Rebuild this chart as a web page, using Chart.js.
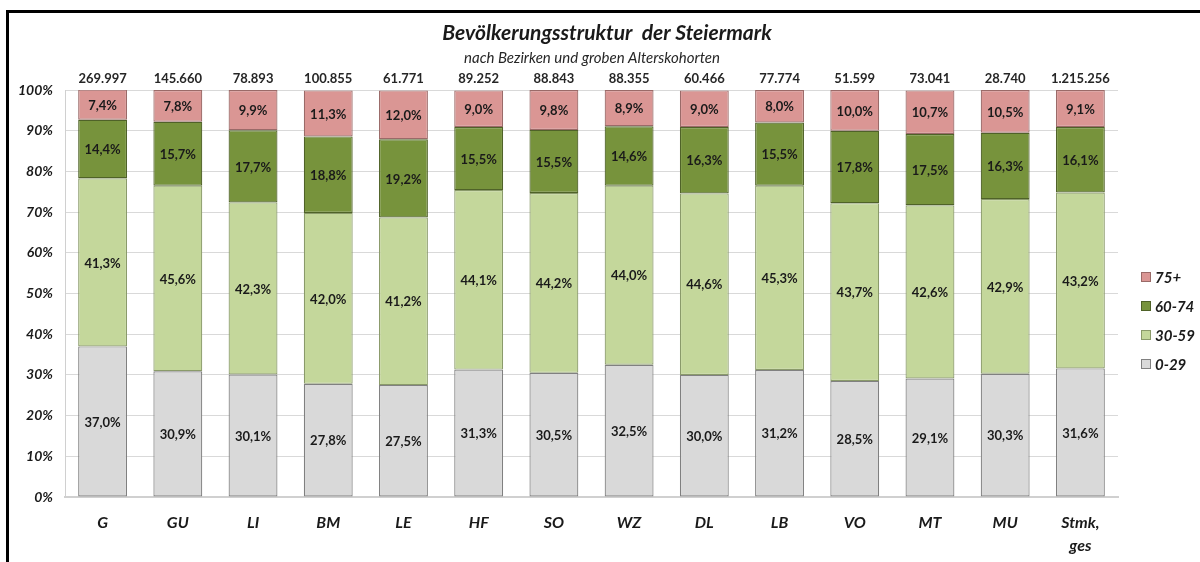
<!DOCTYPE html>
<html>
<head>
<meta charset="utf-8">
<script src="https://cdn.jsdelivr.net/npm/chart.js@4"></script>
<style>
html,body{margin:0;padding:0;background:#fff;}
#wrap{width:1200px;height:562px;position:relative;}
</style>
</head>
<body>
<div id="wrap"><canvas id="c" width="1200" height="562"></canvas></div>
<script>
const categories = ["G","GU","LI","BM","LE","HF","SO","WZ","DL","LB","VO","MT","MU",["Stmk,","ges"]];
const seriesNames = ["0-29","30-59","60-74","75+"];
const age0_29  = [37.0,30.9,30.1,27.8,27.5,31.3,30.5,32.5,30.0,31.2,28.5,29.1,30.3,31.6];
const age30_59 = [41.3,45.6,42.3,42.0,41.2,44.1,44.2,44.0,44.6,45.3,43.7,42.6,42.9,43.2];
const age60_74 = [14.4,15.7,17.7,18.8,19.2,15.5,15.5,14.6,16.3,15.5,17.8,17.5,16.3,16.1];
const age75p   = [7.4,7.8,9.9,11.3,12.0,9.0,9.8,8.9,9.0,8.0,10.0,10.7,10.5,9.1];
const totals   = ["269.997","145.660","78.893","100.855","61.771","89.252","88.843","88.355","60.466","77.774","51.599","73.041","28.740","1.215.256"];
const yTicks   = [0,10,20,30,40,50,60,70,80,90,100];
const titleText = "Bevölkerungsstruktur  der Steiermark";
const subtitleText = "nach Bezirken und groben Alterskohorten";

const fills   = ["#d9d9d9","#c4d79b","#77933c","#da9694"];
const borders = ["#808080","#8a9a6a","#4f6228","#9a6a68"];
const FONT = "Lato, 'Open Sans', sans-serif";

const seriesData = [age0_29, age30_59, age60_74, age75p];

const decor = {
  id: 'decor',
  beforeDraw(chart) {
    const ctx = chart.ctx;
    ctx.save();
    ctx.fillStyle = '#fff';
    ctx.fillRect(0, 0, chart.width, chart.height);
    ctx.restore();
  },
  afterDatasetsDraw(chart) {
    const ctx = chart.ctx;
    ctx.save();
    ctx.font = "bold 13px " + FONT;
    ctx.fillStyle = '#1a1a1a';
    ctx.textAlign = 'center';
    ctx.textBaseline = 'middle';
    chart.data.datasets.forEach((ds, di) => {
      const meta = chart.getDatasetMeta(di);
      meta.data.forEach((el, i) => {
        const v = ds.data[i];
        const y = (el.y + el.base) / 2;
        ctx.fillText(v.toFixed(1).replace('.', ',') + '%', el.x, y + 1);
      });
    });
    const xs = chart.scales.x;
    ctx.font = "bold 13px " + FONT;
    ctx.fillStyle = '#262626';
    totals.forEach((t, i) => {
      ctx.fillText(t, xs.getPixelForValue(i), chart.chartArea.top - 11);
    });
    ctx.restore();
  },
  afterDraw(chart) {
    const ctx = chart.ctx;
    ctx.save();
    ctx.textAlign = 'center';
    ctx.textBaseline = 'middle';
    ctx.fillStyle = '#1a1a1a';
    ctx.font = "italic bold 21px " + FONT;
    ctx.fillText(titleText, 607, 33);
    ctx.fillStyle = '#262626';
    ctx.font = "italic 15px " + FONT;
    ctx.fillText(subtitleText, 592, 58);
    const ys = [277, 306, 335, 364];
    ctx.textAlign = 'left';
    ctx.font = "italic bold 15px " + FONT;
    for (let k = 0; k < 4; k++) {
      const si = 3 - k;
      const y = ys[k];
      ctx.fillStyle = fills[si];
      ctx.fillRect(1141, y - 5, 10, 10);
      ctx.strokeStyle = borders[si];
      ctx.lineWidth = 1;
      ctx.strokeRect(1141.5, y - 4.5, 9, 9);
      ctx.fillStyle = '#1a1a1a';
      ctx.fillText(seriesNames[si], 1155, y + 1);
    }
    ctx.strokeStyle = '#000';
    ctx.lineWidth = 3;
    ctx.beginPath();
    ctx.moveTo(7.5, 562);
    ctx.lineTo(7.5, 11.5);
    ctx.lineTo(1200, 11.5);
    ctx.stroke();
    ctx.restore();
  }
};

new Chart(document.getElementById('c'), {
  type: 'bar',
  data: {
    labels: categories,
    datasets: seriesNames.map((n, i) => ({
      label: n,
      data: seriesData[i],
      backgroundColor: fills[i],
      borderColor: borders[i],
      borderWidth: 1.2,
      borderSkipped: false,
      categoryPercentage: 1,
      barPercentage: 0.65
    }))
  },
  options: {
    responsive: false,
    animation: false,
    devicePixelRatio: 1,
    layout: { padding: { left: 0, right: 82, top: 90, bottom: 0 } },
    plugins: {
      legend: { display: false },
      title: { display: false },
      tooltip: { enabled: false }
    },
    scales: {
      x: {
        stacked: true,
        grid: { display: false, drawTicks: false },
        border: { display: true, color: '#d0d0d0', width: 2 },
        ticks: {
          color: '#1a1a1a',
          font: { family: FONT, size: 16, weight: 'bold', style: 'italic', lineHeight: 1.45 },
          padding: 14,
          maxRotation: 0,
          autoSkip: false
        },
        afterFit(scale) { scale.height = 65; }
      },
      y: {
        stacked: true,
        min: 0,
        max: 100,
        afterBuildTicks(scale) { scale.ticks = yTicks.map(v => ({ value: v })); },
        grid: { color: '#d9d9d9', lineWidth: 1, drawTicks: false },
        border: { display: true, color: '#d0d0d0', width: 1 },
        ticks: {
          color: '#1a1a1a',
          font: { family: FONT, size: 14, weight: 'bold', style: 'italic' },
          padding: 12,
          callback: v => v + '%'
        },
        afterFit(scale) { scale.width = 65; }
      }
    }
  },
  plugins: [decor]
});
</script>
</body>
</html>
